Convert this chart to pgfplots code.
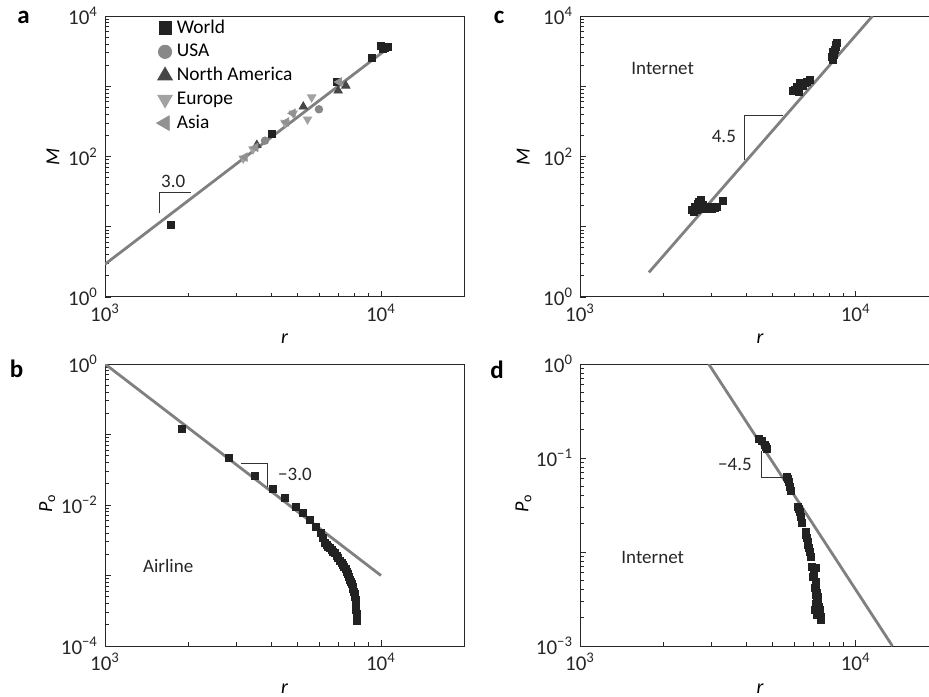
\documentclass[border=0pt]{standalone}
\usepackage{fontspec}
\setmainfont{Carlito}
\usepackage{pgfplots}
\pgfplotsset{compat=1.18}

\definecolor{fitgray}{RGB}{128,128,128}
\definecolor{worldc}{RGB}{34,34,34}
\definecolor{usac}{RGB}{136,136,136}
\definecolor{nac}{RGB}{70,70,70}
\definecolor{eurc}{RGB}{162,162,162}
\definecolor{asiac}{RGB}{145,145,145}

\tikzset{
  slopeline/.style={black!80, line width=0.45pt},
  notetext/.style={font=\fontsize{9.5}{11}\selectfont, text=black!85},
}
\pgfplotsset{
  every axis/.append style={
    scale only axis,
    xmin=1000,
    axis line style={black!85, line width=0.5pt},
    tick style={black!85, line width=0.45pt},
    major tick length=3pt, minor tick length=1.8pt,
    tick pos=left,
    xtick={1000,10000},
    xticklabels={10\textsuperscript{3},10\textsuperscript{4}},
    minor xtick={2000,3000,4000,5000,6000,7000,8000,9000},
    tick label style={font=\fontsize{10.5}{11}\selectfont, text=black!85},
    label style={font=\fontsize{10}{11}\selectfont},
    xlabel={\textit{r}},
  },
}

\begin{document}
\begin{tikzpicture}
\useasboundingbox (0,0) rectangle (464.5pt,348pt);

% ---------- a ----------
\begin{loglogaxis}[
  at={(52.5pt,199.5pt)}, anchor=south west,
  width=179.5pt, height=140.5pt,
  xmax=20000, ymin=1, ymax=10000,
  ytick={1,10,100,1000,10000},
  yticklabels={10\textsuperscript{0},,10\textsuperscript{2},,10\textsuperscript{4}},
  minor ytick={2,3,4,5,6,7,8,9,20,30,40,50,60,70,80,90,200,300,400,500,600,700,800,900,2000,3000,4000,5000,6000,7000,8000,9000},
  ylabel={\textit{M}},
  xlabel style={at={(axis description cs:0.5,-0.15)}, anchor=center},
  ylabel style={at={(axis description cs:-0.145,0.5)}, anchor=center},
  legend style={at={(0.126,1.008)}, anchor=north west, draw=none, fill=none,
    font=\fontsize{9.7}{11}\selectfont, row sep=2.3pt,
    nodes={inner sep=0.8pt}},
  legend cell align=left,
  legend image code/.code={\path (0pt,0pt) (8.4pt,0pt);
    \draw[#1, every mark/.append style={scale=1.75}] plot coordinates {(3.5pt,0pt)};},
]
\addplot[only marks, mark=square*, mark size=1.75pt, color=worldc] coordinates {
  (1733,10.8) (4018,209) (6950,1138) (9290,2500)
  (10000,3700) (10300,3500) (10600,3600) (10150,3400)
};
\addlegendentry{World}
\addplot[only marks, mark=*, mark size=1.9pt, color=usac] coordinates {
  (3800,168) (5960,470)
};
\addlegendentry{USA}
\addplot[only marks, mark=triangle*, mark size=2.4pt, color=nac] coordinates {
  (3550,146) (5230,512) (7000,865) (7460,1018)
};
\addlegendentry{North America}
\addplot[only marks, mark=triangle*, mark size=2.4pt, color=eurc, mark options={rotate=180}] coordinates {
  (3170,94) (3440,127) (4490,303) (5420,338) (5610,697) (4810,412)
};
\addlegendentry{Europe}
\addplot[only marks, mark=triangle*, mark size=2.4pt, color=asiac, mark options={rotate=90}] coordinates {
  (3210,98) (3510,135) (4790,412) (4540,310) (7050,1150)
};
\addlegendentry{Asia}
\addplot[color=fitgray, line width=1.4pt, no marks, forget plot] coordinates {(1000,2.93) (10190,3100)};
\draw[slopeline] (axis cs:1581,15.5) -- (axis cs:1581,30.9) -- (axis cs:2057,30.9);
\node[notetext, anchor=center] at (axis cs:1767,43.8) {3.0};
\end{loglogaxis}

% ---------- c ----------
\begin{loglogaxis}[
  at={(290pt,199.5pt)}, anchor=south west,
  width=174.5pt, height=140.5pt,
  xmax=18450, ymin=1, ymax=10000,
  ytick={1,10,100,1000,10000},
  yticklabels={10\textsuperscript{0},,10\textsuperscript{2},,10\textsuperscript{4}},
  minor ytick={2,3,4,5,6,7,8,9,20,30,40,50,60,70,80,90,200,300,400,500,600,700,800,900,2000,3000,4000,5000,6000,7000,8000,9000},
  ylabel={\textit{M}},
  xlabel style={at={(axis description cs:0.516,-0.15)}, anchor=center},
  ylabel style={at={(axis description cs:-0.163,0.5)}, anchor=center},
]
\addplot[only marks, mark=square*, mark size=1.75pt, color=worldc] coordinates {
  (2553,17.5) (2611,19.1) (2686,21.2) (2740,24.2) (2785,20.6) (2864,17.9)
  (2945,19.1) (3043,19.4) (3130,19.1) (3311,23.4) (2580,16.5) (2650,17.2)
  (2720,18.0) (2900,18.6) (3000,18.0) (3090,18.3) (2700,22.5)
  (5906,869) (6105,971) (6281,1130) (6457,1014) (6643,1167) (6827,1233)
  (6240,841) (6000,900) (6380,1060) (6550,1100)
  (8300,2375) (8340,2800) (8410,3300) (8490,3880) (8530,4190) (8180,2650)
  (8250,3050) (8450,3600)
};
\addplot[color=fitgray, line width=1.4pt, no marks] coordinates {(1778,2.24) (11510,10000)};
\draw[slopeline] (axis cs:3965,89.8) -- (axis cs:3965,383) -- (axis cs:5430,383);
\node[notetext, anchor=east] at (axis cs:3900,193) {4.5};
\node[notetext, anchor=center] at (axis cs:1995,1770) {Internet};
\end{loglogaxis}

% ---------- b ----------
\begin{loglogaxis}[
  at={(52.5pt,25pt)}, anchor=south west,
  width=179.5pt, height=141pt,
  xmax=20000, ymin=0.0001, ymax=1,
  ytick={0.0001,0.001,0.01,0.1,1},
  yticklabels={10\textsuperscript{−4},,10\textsuperscript{−2},,10\textsuperscript{0}},
  minor ytick={0.0002,0.0003,0.0004,0.0005,0.0006,0.0007,0.0008,0.0009,
    0.002,0.003,0.004,0.005,0.006,0.007,0.008,0.009,
    0.02,0.03,0.04,0.05,0.06,0.07,0.08,0.09,
    0.2,0.3,0.4,0.5,0.6,0.7,0.8,0.9},
  ylabel={\textit{P}\textsubscript{o}},
  xlabel style={at={(axis description cs:0.5,-0.15)}, anchor=center},
  ylabel style={at={(axis description cs:-0.161,0.507)}, anchor=center},
]
\addplot[only marks, mark=square*, mark size=1.75pt, color=worldc] coordinates {
  (1897,0.119) (2800,0.0462) (3490,0.0259) (4045,0.01676) (4490,0.0125)
  (4909,0.00948) (5230,0.00764) (5530,0.00614) (5810,0.00493) (6040,0.00405)
  (6150,0.00337) (6270,0.00292) (6360,0.00272) (6440,0.00256) (6530,0.00243)
  (6625,0.00230) (6720,0.00218) (6810,0.00206) (6900,0.00190) (7000,0.00175)
  (7100,0.00163) (7210,0.00152) (7290,0.00142) (7370,0.00133) (7450,0.00123)
  (7520,0.00113) (7590,0.00104) (7660,0.00096) (7730,0.00088) (7790,0.000817)
  (7840,0.000752) (7890,0.000693) (7940,0.000640) (7980,0.000589) (8020,0.000543)
  (8050,0.000500) (8080,0.000450) (8110,0.000403) (8130,0.000362) (8140,0.000324)
  (8160,0.000290) (8170,0.000260) (8170,0.000228)
};
\addplot[color=fitgray, line width=1.4pt, no marks] coordinates {(1000,1) (10000,0.001)};
\draw[slopeline] (axis cs:3105,0.0393) -- (axis cs:3873,0.0393) -- (axis cs:3873,0.01825);
\node[notetext, anchor=west] at (axis cs:4000,0.0268) {−3.0};
\node[notetext, anchor=center] at (axis cs:1694,0.00136) {Airline};
\end{loglogaxis}

% ---------- d ----------
\begin{loglogaxis}[
  at={(290pt,25pt)}, anchor=south west,
  width=174.5pt, height=141pt,
  xmax=18450, ymin=0.001, ymax=1,
  ytick={0.001,0.01,0.1,1},
  yticklabels={10\textsuperscript{−3},,10\textsuperscript{−1},10\textsuperscript{0}},
  minor ytick={0.002,0.003,0.004,0.005,0.006,0.007,0.008,0.009,
    0.02,0.03,0.04,0.05,0.06,0.07,0.08,0.09,
    0.2,0.3,0.4,0.5,0.6,0.7,0.8,0.9},
  ylabel={\textit{P}\textsubscript{o}},
  xlabel style={at={(axis description cs:0.516,-0.15)}, anchor=center},
  ylabel style={at={(axis description cs:-0.162,0.507)}, anchor=center},
]
\addplot[only marks, mark=square*, mark size=1.75pt, color=worldc] coordinates {
  (4437,0.159) (4562,0.1525) (4690,0.138) (4755,0.1244) (4720,0.131)
  (5620,0.0626) (5700,0.0562) (5780,0.0498) (5825,0.0451) (5660,0.0595)
  (6190,0.0304) (6280,0.0269) (6310,0.0238) (6365,0.0206) (6240,0.0285)
  (6590,0.0165) (6640,0.0140) (6730,0.0119) (6825,0.0101) (6870,0.00893)
  (6610,0.0152) (6690,0.0128) (6780,0.0110)
  (6925,0.0070) (7060,0.00645) (7180,0.00672) (7020,0.00547) (7160,0.00484)
  (7115,0.00411) (7260,0.00364) (7220,0.00309) (7320,0.00273) (7115,0.00242)
  (7420,0.00242) (7220,0.00214) (7480,0.00205) (7480,0.00189) (7300,0.00220)
  (7080,0.00590) (7200,0.00440) (7180,0.00350) (7280,0.00330) (7150,0.00280)
  (7380,0.00260) (7350,0.00230)
};
\addplot[color=fitgray, line width=1.4pt, no marks] coordinates {(2929,1) (13590,0.001)};
\draw[slopeline] (axis cs:4562,0.1173) -- (axis cs:4562,0.0626) -- (axis cs:5457,0.0626);
\node[notetext, anchor=east] at (axis cs:4450,0.0861) {−4.5};
\node[notetext, anchor=center] at (axis cs:1835,0.00881) {Internet};
\end{loglogaxis}

% panel letters
\node[font=\fontsize{12.5}{13}\selectfont\bfseries] at (11.8pt,339.5pt) {a};
\node[font=\fontsize{12.5}{13}\selectfont\bfseries] at (8.3pt,163.5pt) {b};
\node[font=\fontsize{12.5}{13}\selectfont\bfseries] at (249.5pt,339.5pt) {c};
\node[font=\fontsize{12.5}{13}\selectfont\bfseries] at (248.5pt,163pt) {d};
\end{tikzpicture}
\end{document}
